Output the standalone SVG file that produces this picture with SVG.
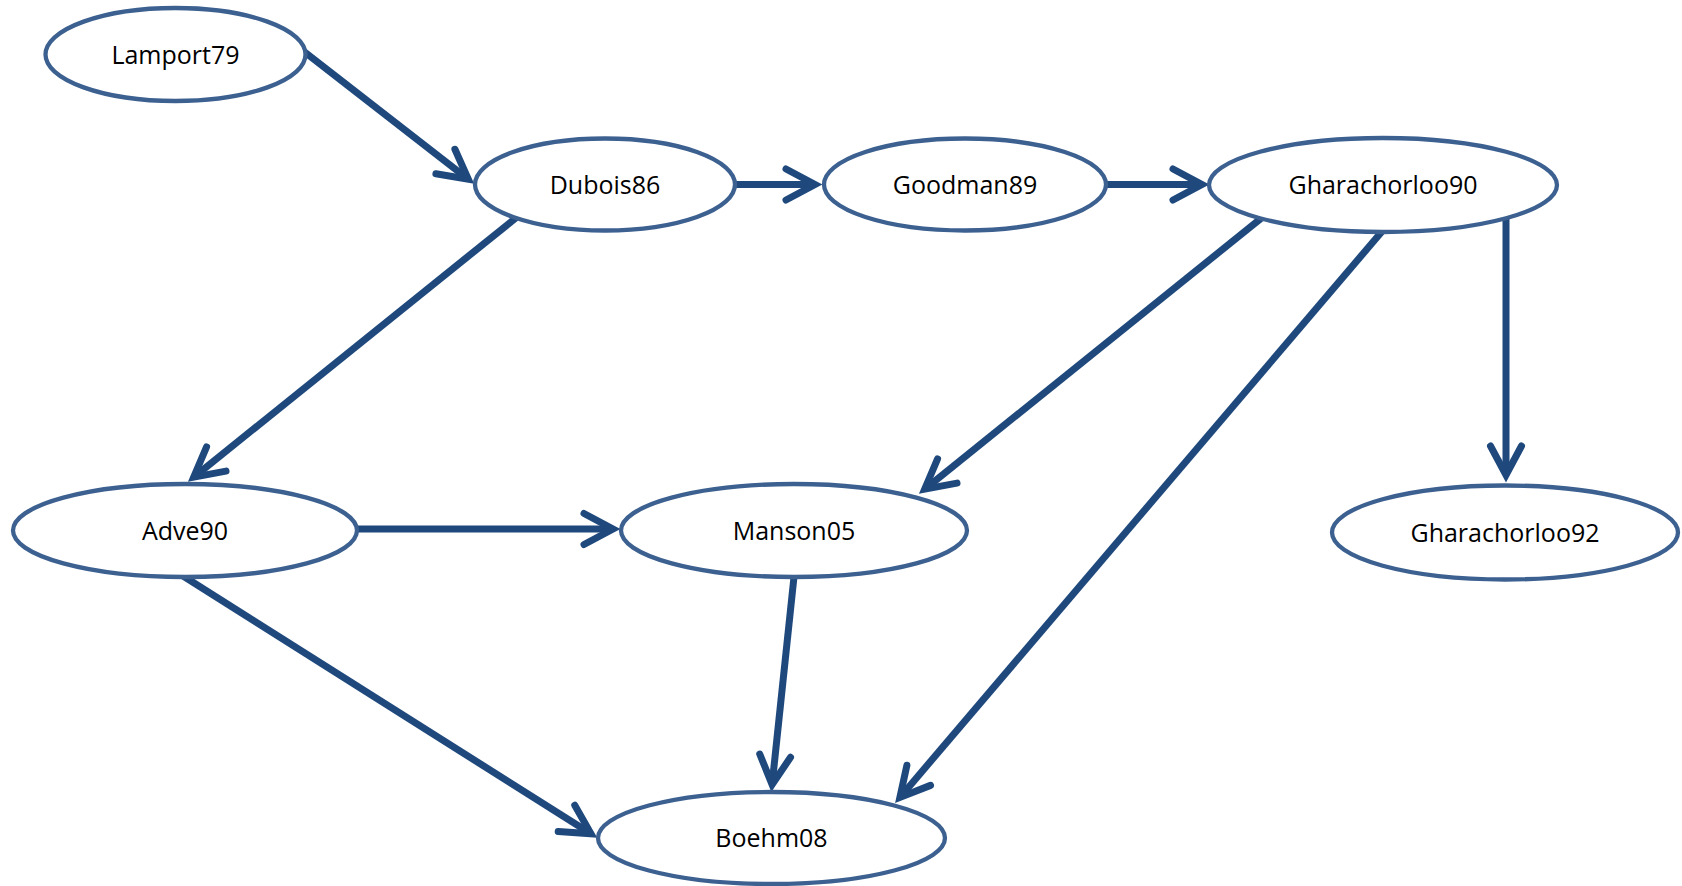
<svg xmlns="http://www.w3.org/2000/svg" width="1682" height="886" viewBox="0 0 1682 886">
  <style>
    .node ellipse { fill: #ffffff; stroke: #3c6090; stroke-width: 4.3; }
    .node text { font-family: "Open Sans", "Liberation Sans", sans-serif; font-size: 25px; fill: #000000; text-anchor: middle; }
    .edge { fill: none; stroke: #1f497d; stroke-width: 7; marker-end: url(#arrow); }
  </style>
  <defs>
    <marker id="arrow" markerUnits="userSpaceOnUse" viewBox="-40 -20 50 40" markerWidth="50" markerHeight="40" refX="0" refY="0" orient="auto" overflow="visible">
      <path d="M-29,-15.5 L0,0 L-29,15.5" fill="none" stroke="#1f497d" stroke-width="7" stroke-linecap="round" stroke-linejoin="miter"/>
    </marker>
  </defs>
  <rect width="1682" height="886" fill="#ffffff"/>

  <!-- citation edges -->
  <g id="connectors">
    <path class="edge" d="M302,50 L468.3,179.3"/>
    <path class="edge" d="M731,184.5 L815,184.5"/>
    <path class="edge" d="M1102,184.5 L1202,184.5"/>
    <path class="edge" d="M517,217 L193.7,477.2"/>
    <path class="edge" d="M1264,216 L924.7,489.2"/>
    <path class="edge" d="M1384.5,228.5 L899.9,797.4"/>
    <path class="edge" d="M1506,215 L1506,475"/>
    <path class="edge" d="M353,529 L613,529"/>
    <path class="edge" d="M180.3,574.3 L591,833.8"/>
    <path class="edge" d="M794.5,572 L772.1,784.5"/>
  </g>

  <g id="lamport79" class="node">
    <ellipse cx="175.5" cy="54.5" rx="130" ry="46.5"/>
    <text x="175.5" y="63.5">Lamport79</text>
  </g>
  <g id="dubois86" class="node">
    <ellipse cx="605" cy="184.5" rx="130" ry="46"/>
    <text x="605" y="193.5">Dubois86</text>
  </g>
  <g id="goodman89" class="node">
    <ellipse cx="965" cy="184.5" rx="141" ry="46"/>
    <text x="965" y="193.5">Goodman89</text>
  </g>
  <g id="gharachorloo90" class="node">
    <ellipse cx="1383" cy="185" rx="174" ry="47"/>
    <text x="1383" y="194">Gharachorloo90</text>
  </g>
  <g id="adve90" class="node">
    <ellipse cx="185" cy="530.5" rx="172" ry="46.5"/>
    <text x="185" y="539.5">Adve90</text>
  </g>
  <g id="manson05" class="node">
    <ellipse cx="794" cy="530.5" rx="173" ry="46.5"/>
    <text x="794" y="539.5">Manson05</text>
  </g>
  <g id="gharachorloo92" class="node">
    <ellipse cx="1505" cy="532.5" rx="173" ry="47"/>
    <text x="1505" y="541.5">Gharachorloo92</text>
  </g>
  <g id="boehm08" class="node">
    <ellipse cx="771.5" cy="838" rx="173.5" ry="46"/>
    <text x="771.5" y="847">Boehm08</text>
  </g>
</svg>
